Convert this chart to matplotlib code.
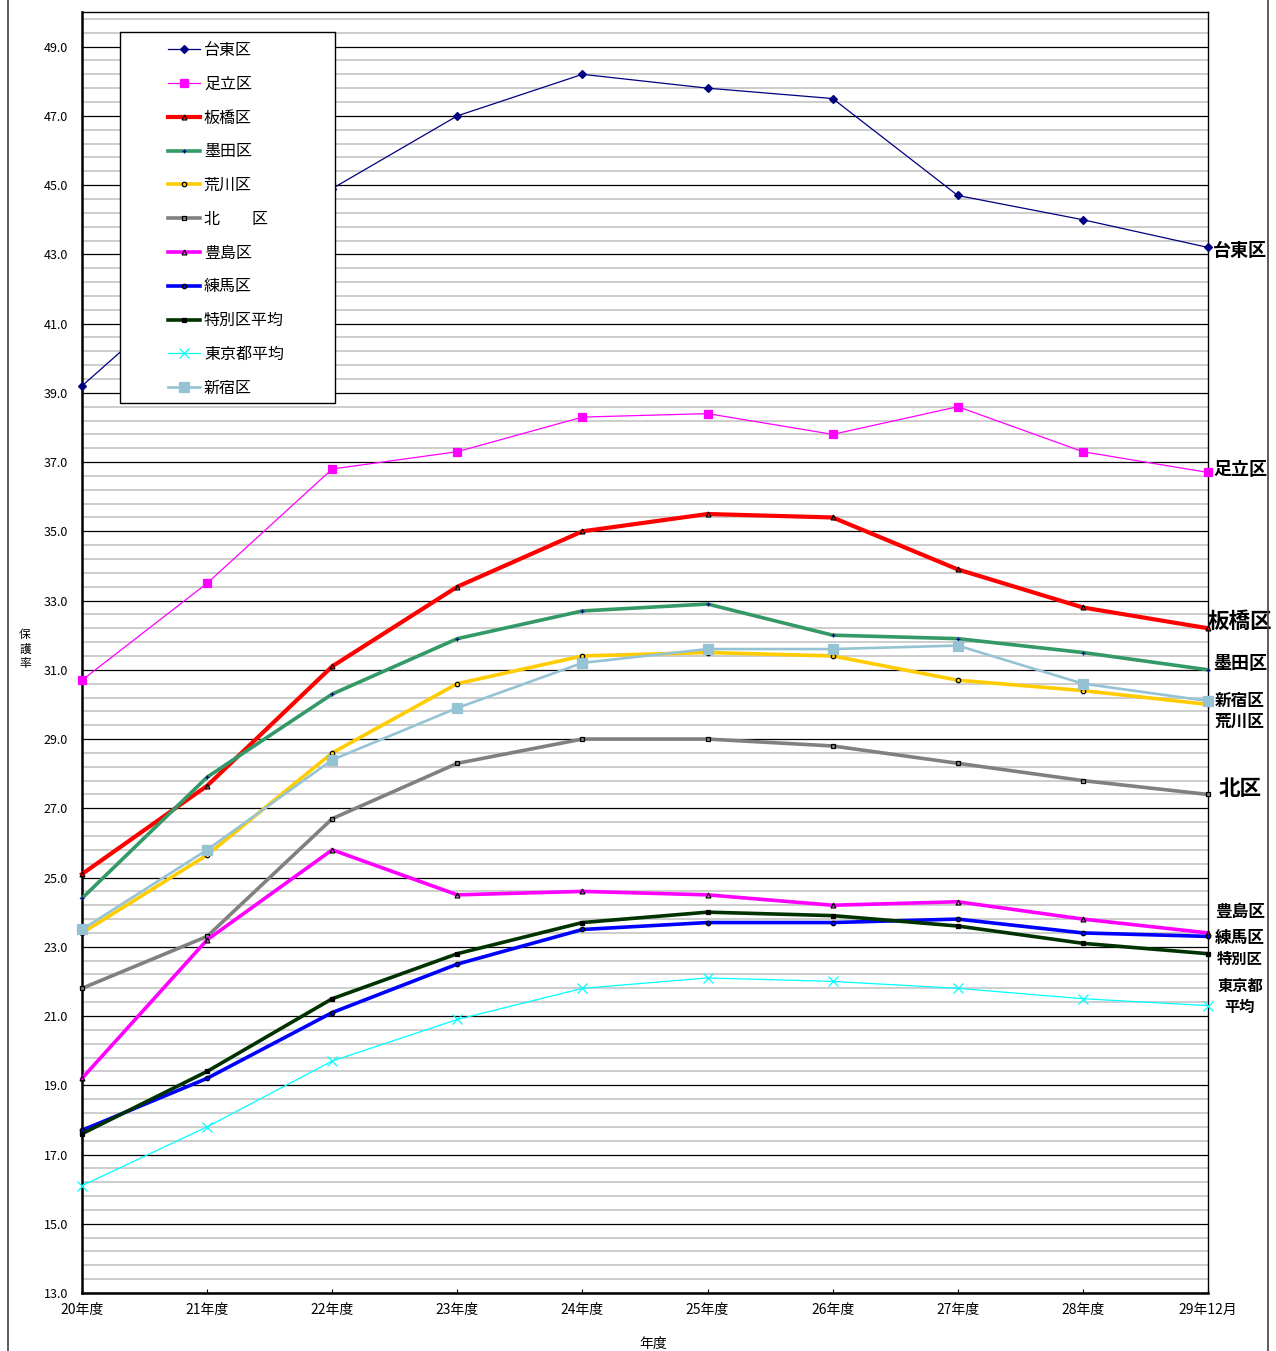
import matplotlib.pyplot as plt
from matplotlib.lines import Line2D
from matplotlib.patches import Rectangle
from matplotlib.transforms import blended_transform_factory

plt.rcParams['font.family'] = ['Noto Sans CJK JP', 'DejaVu Sans']

years = ['20年度', '21年度', '22年度', '23年度', '24年度',
         '25年度', '26年度', '27年度', '28年度', '29年12月']

taito = [39.2, 42.4, 44.9, 47.0, 48.2, 47.8, 47.5, 44.7, 44.0, 43.2]
adachi = [30.7, 33.5, 36.8, 37.3, 38.3, 38.4, 37.8, 38.6, 37.3, 36.7]
itabashi = [25.1, 27.65, 31.1, 33.4, 35.0, 35.5, 35.4, 33.9, 32.8, 32.2]
sumida = [24.4, 27.9, 30.3, 31.9, 32.7, 32.9, 32.0, 31.9, 31.5, 31.0]
arakawa = [23.4, 25.65, 28.6, 30.6, 31.4, 31.5, 31.4, 30.7, 30.4, 30.0]
kita = [21.8, 23.3, 26.7, 28.3, 29.0, 29.0, 28.8, 28.3, 27.8, 27.4]
toshima = [19.2, 23.2, 25.8, 24.5, 24.6, 24.5, 24.2, 24.3, 23.8, 23.4]
nerima = [17.7, 19.2, 21.1, 22.5, 23.5, 23.7, 23.7, 23.8, 23.4, 23.3]
ku_avg = [17.6, 19.4, 21.5, 22.8, 23.7, 24.0, 23.9, 23.6, 23.1, 22.8]
tokyo_avg = [16.1, 17.8, 19.7, 20.9, 21.8, 22.1, 22.0, 21.8, 21.5, 21.3]
shinjuku = [23.5, 25.8, 28.4, 29.9, 31.2, 31.6, 31.6, 31.7, 30.6, 30.1]

# (label, data, color, linewidth, marker, markersize, marker face, marker edge)
series = [
    ('台東区', taito, '#000080', 0.9, 'D', 4.5, '#000080', '#000080'),
    ('足立区', adachi, '#FF00FF', 0.9, 's', 6, '#FF00FF', '#FF00FF'),
    ('板橋区', itabashi, '#FF0000', 3.0, '^', 3.5, 'none', '#000000'),
    ('墨田区', sumida, '#339966', 2.6, '+', 3.5, '#000080', '#000080'),
    ('荒川区', arakawa, '#FFCC00', 2.6, 'o', 3.2, 'none', '#000000'),
    ('北\u3000\u3000区', kita, '#808080', 2.6, 's', 3.2, 'none', '#000000'),
    ('豊島区', toshima, '#FF00FF', 2.6, '^', 3.5, 'none', '#000000'),
    ('練馬区', nerima, '#0000FF', 2.6, 'o', 3.2, '#0000FF', '#000000'),
    ('特別区平均', ku_avg, '#003300', 2.6, 's', 3.2, '#000000', '#000000'),
    ('東京都平均', tokyo_avg, '#00FFFF', 0.9, 'x', 6.5, '#00FFFF', '#00FFFF'),
    ('新宿区', shinjuku, '#96C3D4', 1.9, 's', 6.5, '#96C3D4', '#96C3D4'),
]

# labels at the right end: text, y position (data), font size
end_labels = [
    ('台東区', 43.1, 13), ('足立区', 36.78, 13), ('板橋区', 32.41, 15.5),
    ('墨田区', 31.17, 13), ('新宿区', 30.1, 12), ('荒川区', 29.5, 12),
    ('北区', 27.56, 15.5), ('豊島区', 24.01, 12), ('練馬区', 23.26, 12),
    ('特別区', 22.65, 11), ('東京都', 21.87, 11), ('平均', 21.26, 11),
]

fig = plt.figure(figsize=(12.76, 13.51), dpi=100)
ax = fig.add_axes([82 / 1276, 1 - 1293 / 1351, 1126 / 1276, 1281 / 1351])

x = list(range(len(years)))
for label, vals, col, lw, mk, ms, mfc, mec in series:
    ax.plot(x, vals, color=col, linewidth=lw, marker=mk, markersize=ms,
            markerfacecolor=mfc, markeredgecolor=mec, markeredgewidth=0.9,
            label=label, clip_on=False, zorder=3)

ax.set_xlim(0, 9)
ax.set_ylim(13, 50)

# gridlines: major every 2.0, minor every 0.4
minor = [13 + 0.4 * i for i in range(93)]
for v in minor:
    if abs((v - 13) / 2 - round((v - 13) / 2)) < 1e-6:
        ax.axhline(v, color='#000000', linewidth=0.9, zorder=1)
    else:
        ax.axhline(v, color='#C0C0C0', linewidth=1.1, zorder=1)

major = [13 + 2 * i for i in range(19)]
ax.set_yticks(major)
ax.set_yticklabels(['%.1f' % v for v in major], fontsize=9)
ax.set_xticks(x)
ax.set_xticklabels(years, fontsize=10)
ax.tick_params(axis='y', length=0, pad=10)
ax.tick_params(axis='x', length=3, direction='in', pad=7)
for s in ax.spines.values():
    s.set_linewidth(1.0)
ax.spines['left'].set_linewidth(1.8)
ax.spines['bottom'].set_linewidth(1.8)

ax.set_xlabel('年度', fontsize=10)
ax.xaxis.set_label_coords(0.507, -0.0345)

# vertical y axis title, one character per line
for i, ch in enumerate('保護率'):
    fig.text(25 / 1276, 1 - (635 + 14 * i) / 1351, ch, fontsize=8.5,
             ha='center', va='center')

lab_tr = blended_transform_factory(fig.transFigure, ax.transData)
for txt, yv, fs in end_labels:
    ax.text(1240 / 1276, yv, txt, fontsize=fs, fontweight='bold', ha='center',
            va='center', clip_on=False, transform=lab_tr)

# legend frame drawn as its own box, entries placed inside it
ax.add_patch(Rectangle((120 / 1276, 1 - 403 / 1351), 215 / 1276, 371 / 1351,
                       transform=fig.transFigure, facecolor='white',
                       edgecolor='black', linewidth=1.0, zorder=4,
                       clip_on=False))
handles = [Line2D([], [], color=c, linewidth=lw, marker=mk, markersize=ms,
                  markerfacecolor=mfc, markeredgecolor=mec, markeredgewidth=0.9)
           for _, _, c, lw, mk, ms, mfc, mec in series]
labels = [s[0] for s in series]
leg = ax.legend(handles, labels, loc='upper left',
                bbox_to_anchor=(168 / 1276, 1 - 42 / 1351),
                bbox_transform=fig.transFigure, fontsize=11.5,
                frameon=False, handlelength=2.0, labelspacing=1.05,
                borderpad=0, handletextpad=0.25, borderaxespad=0)
leg.set_zorder(5)

# outer frame lines left and right
fig.add_artist(Line2D([8 / 1276, 8 / 1276], [0, 1], color='#404040',
                      linewidth=1.2, transform=fig.transFigure))
fig.add_artist(Line2D([1268 / 1276, 1268 / 1276], [0, 1], color='#404040',
                      linewidth=1.2, transform=fig.transFigure))

fig.savefig('out.png', dpi=100)
